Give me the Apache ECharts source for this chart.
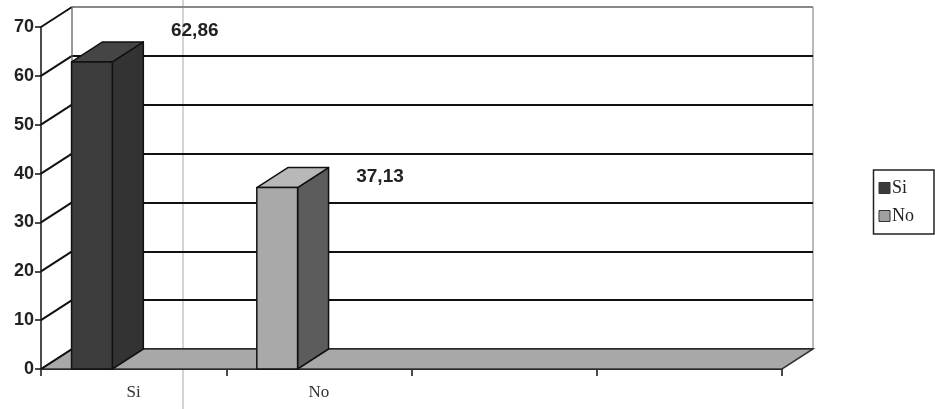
<!DOCTYPE html>
<html>
<head>
<meta charset="utf-8">
<script src="https://cdn.jsdelivr.net/npm/echarts@6/dist/echarts.min.js"></script>
<style>
html,body{margin:0;padding:0;background:#ffffff;}
#chart{width:935px;height:409px;}
</style>
</head>
<body>
<div id="chart"></div>
<script>
// ---- data ----
const categories = ['Si', 'No', '', ''];
const seriesNames = ['Si', 'No'];
const values = [62.86, 37.13];
const valueLabels = ['62,86', '37,13'];
const yTicks = [0, 10, 20, 30, 40, 50, 60, 70];

// ---- style ----
const DEPTH = [31, -20];
const barColors = [
  { front: '#3c3c3c', top: '#454545', side: '#333333', legend: '#3a3a3a' },
  { front: '#a9a9a9', top: '#b8b8b8', side: '#5c5c5c', legend: '#a0a0a0' }
];
const labelDy = [-11, 9];

const chart = echarts.init(document.getElementById('chart'), null, { renderer: 'canvas' });

function sceneItem(params, api) {
  const cs = params.coordSys;
  const left = cs.x, right = cs.x + cs.width;
  const y0 = api.coord([0, 0])[1];
  const [dx, dy] = DEPTH;
  const children = [];
  children.push({
    type: 'polygon',
    shape: { points: [[left, y0], [right, y0], [right + dx, y0 + dy], [left + dx, y0 + dy]] },
    style: { fill: '#a8a8a8', stroke: '#333', lineWidth: 1.5 }
  });
  yTicks.forEach(function (t) {
    const y = api.coord([0, t])[1];
    children.push({
      type: 'line',
      shape: { x1: left, y1: y, x2: left + dx, y2: y + dy },
      style: { stroke: '#111', lineWidth: 2 }
    });
  });
  children.push({
    type: 'line',
    shape: { x1: left + dx, y1: api.coord([0, 70])[1] + dy, x2: left + dx, y2: y0 + dy },
    style: { stroke: '#777', lineWidth: 1 }
  });
  return { type: 'group', children: children };
}

function barItem(idx) {
  return function (params, api) {
    const cat = api.value(0), v = api.value(1);
    const base = api.coord([cat, 0]);
    const top = api.coord([cat, v]);
    const band = api.size([1, 0])[0];
    const x0 = base[0] - band * 0.335;
    const w = band * 0.22;
    const yb = base[1], yt = top[1];
    const [dx, dy] = DEPTH;
    const c = barColors[idx];
    const st = { stroke: '#111', lineWidth: 1.5, lineJoin: 'round' };
    return {
      type: 'group',
      children: [
        { type: 'polygon', shape: { points: [[x0 + w, yt], [x0 + w + dx, yt + dy], [x0 + w + dx, yb + dy], [x0 + w, yb]] }, style: Object.assign({ fill: c.side }, st) },
        { type: 'polygon', shape: { points: [[x0, yt], [x0 + dx, yt + dy], [x0 + w + dx, yt + dy], [x0 + w, yt]] }, style: Object.assign({ fill: c.top }, st) },
        { type: 'rect', shape: { x: x0, y: yt, width: w, height: yb - yt }, style: Object.assign({ fill: c.front }, st) },
        { type: 'text', x: x0 + band * 0.665, y: yt + dy + labelDy[idx],
          style: { text: valueLabels[idx], fill: '#222', font: 'bold 19px "Liberation Sans", Arial, sans-serif', align: 'center', verticalAlign: 'middle' } }
      ]
    };
  };
}

const option = {
  backgroundColor: '#ffffff',
  animation: false,
  grid: [
    { left: 41, right: 153, top: 27, bottom: 40 },
    { left: 72, right: 122, top: 7, bottom: 60, show: true, borderColor: '#777', borderWidth: 1, backgroundColor: 'transparent' }
  ],
  xAxis: [
    { type: 'category', gridIndex: 0, data: categories, boundaryGap: true,
      axisLine: { show: true, lineStyle: { color: '#111', width: 2 } },
      axisTick: { show: true, alignWithLabel: false, length: 7, lineStyle: { color: '#111', width: 1.5 } },
      axisLabel: { color: '#333', fontFamily: '"Liberation Serif", "Times New Roman", serif', fontSize: 17, margin: 15 } },
    { type: 'category', gridIndex: 1, data: categories, show: false }
  ],
  yAxis: [
    { type: 'value', gridIndex: 0, min: 0, max: 70, interval: 10,
      axisLine: { show: true, lineStyle: { color: '#111', width: 1.5 } },
      axisTick: { show: true, length: 6, lineStyle: { color: '#111', width: 1.5 } },
      splitLine: { show: false },
      axisLabel: { color: '#222', fontFamily: '"Liberation Sans", Arial, sans-serif', fontWeight: 'bold', fontSize: 18, margin: 7 } },
    { type: 'value', gridIndex: 1, min: 0, max: 70, interval: 10,
      axisLine: { show: false }, axisTick: { show: false }, axisLabel: { show: false },
      splitLine: { show: true, lineStyle: { color: ['#111', '#111', '#111', '#111', '#111', '#111', '#111', '#888'], width: 2 } } }
  ],
  legend: {
    orient: 'vertical', right: 1, top: 170,
    data: seriesNames,
    icon: 'rect', itemWidth: 11, itemHeight: 11, itemGap: 10,
    padding: [9, 20, 9, 5],
    borderColor: '#222', borderWidth: 1.5,
    itemStyle: { borderColor: '#333', borderWidth: 1 },
    textStyle: { fontFamily: '"Liberation Serif", "Times New Roman", serif', fontSize: 18, color: '#222', padding: [0, 0, 0, -3] }
  },
  graphic: [
    { type: 'line', shape: { x1: 183, y1: 0, x2: 183, y2: 409 }, style: { stroke: '#d4d4d4', lineWidth: 2 }, z: -1, silent: true }
  ],
  series: [
    { type: 'custom', name: 'scene', xAxisIndex: 0, yAxisIndex: 0, data: [[0, 0]], renderItem: sceneItem, z: 1, silent: true },
    { type: 'custom', name: seriesNames[0], xAxisIndex: 0, yAxisIndex: 0, data: [[0, values[0]]], renderItem: barItem(0), z: 3, clip: false,
      itemStyle: { color: barColors[0].legend } },
    { type: 'custom', name: seriesNames[1], xAxisIndex: 0, yAxisIndex: 0, data: [[1, values[1]]], renderItem: barItem(1), z: 3, clip: false,
      itemStyle: { color: barColors[1].legend } }
  ]
};
chart.setOption(option);
</script>
</body>
</html>
